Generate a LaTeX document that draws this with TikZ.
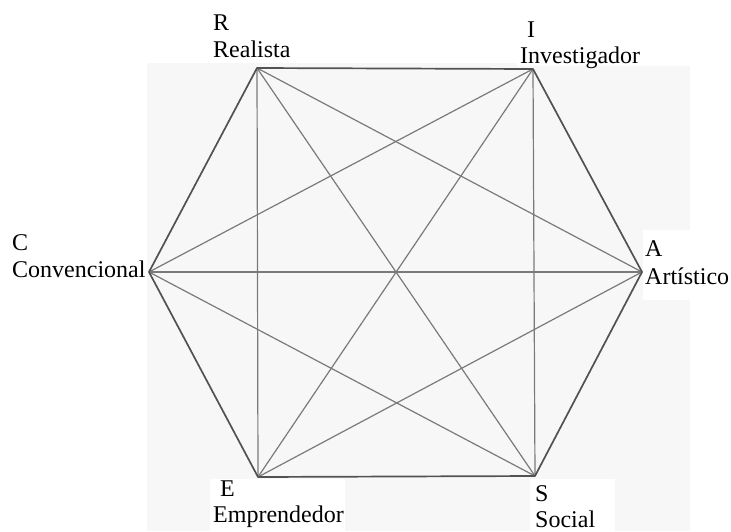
\documentclass[tikz,border=0pt]{standalone}
\usepackage{fontspec}
\setmainfont{Liberation Serif}
\begin{document}
\begin{tikzpicture}[x=1pt,y=-1pt,
  lab/.style={anchor=base west, inner sep=0pt, font=\fontsize{24}{28}\selectfont},
  edge/.style={line width=1.7pt, draw=black!68},
  diag/.style={line width=1.2pt, draw=black!52},
  whitebox/.style={fill=white, draw=none}]
\useasboundingbox (0,0) rectangle (731,531);
% faint scanned background
\fill[black!3] (147,63) rectangle (690,531);
\fill[whitebox] (517,0) rectangle (731,66);
\fill[whitebox] (643,230) rectangle (731,300);
\fill[whitebox] (210,479) rectangle (345,531);
\fill[whitebox] (530,479) rectangle (615,531);
% vertices
\coordinate (R) at (257,68);
\coordinate (I) at (533,69);
\coordinate (A) at (642,272);
\coordinate (S) at (535,476);
\coordinate (E) at (258,477);
\coordinate (C) at (149,272);
% diagonals
\draw[diag] (R) -- (A);
\draw[diag] (R) -- (S);
\draw[diag] (R) -- (E);
\draw[diag] (I) -- (S);
\draw[diag] (I) -- (E);
\draw[diag] (I) -- (C);
\draw[diag] (A) -- (E);
\draw[diag] (A) -- (C);
\draw[diag] (S) -- (C);
% hexagon edges
\draw[edge, line join=round] (R) -- (I) -- (A) -- (S) -- (E) -- (C) -- cycle;
% labels
\node[lab] (Rl) at (213,30) {R};
\node[lab] (Rn) at (213,57) {Realista};
\node[lab] (Il) at (527,37) {I};
\node[lab] (In) at (520,63) {Investigador};
\node[lab] (Cl) at (12,250) {C};
\node[lab] (Cn) at (12,277) {Convencional};
\node[lab] (Al) at (645,256) {A};
\node[lab] (An) at (645,284) {Artístico};
\node[lab] (El) at (220,496) {E};
\node[lab] (En) at (213,522) {Emprendedor};
\node[lab] (Sl) at (535,501) {S};
\node[lab] (Sn) at (535,527) {Social};
\end{tikzpicture}
\end{document}
